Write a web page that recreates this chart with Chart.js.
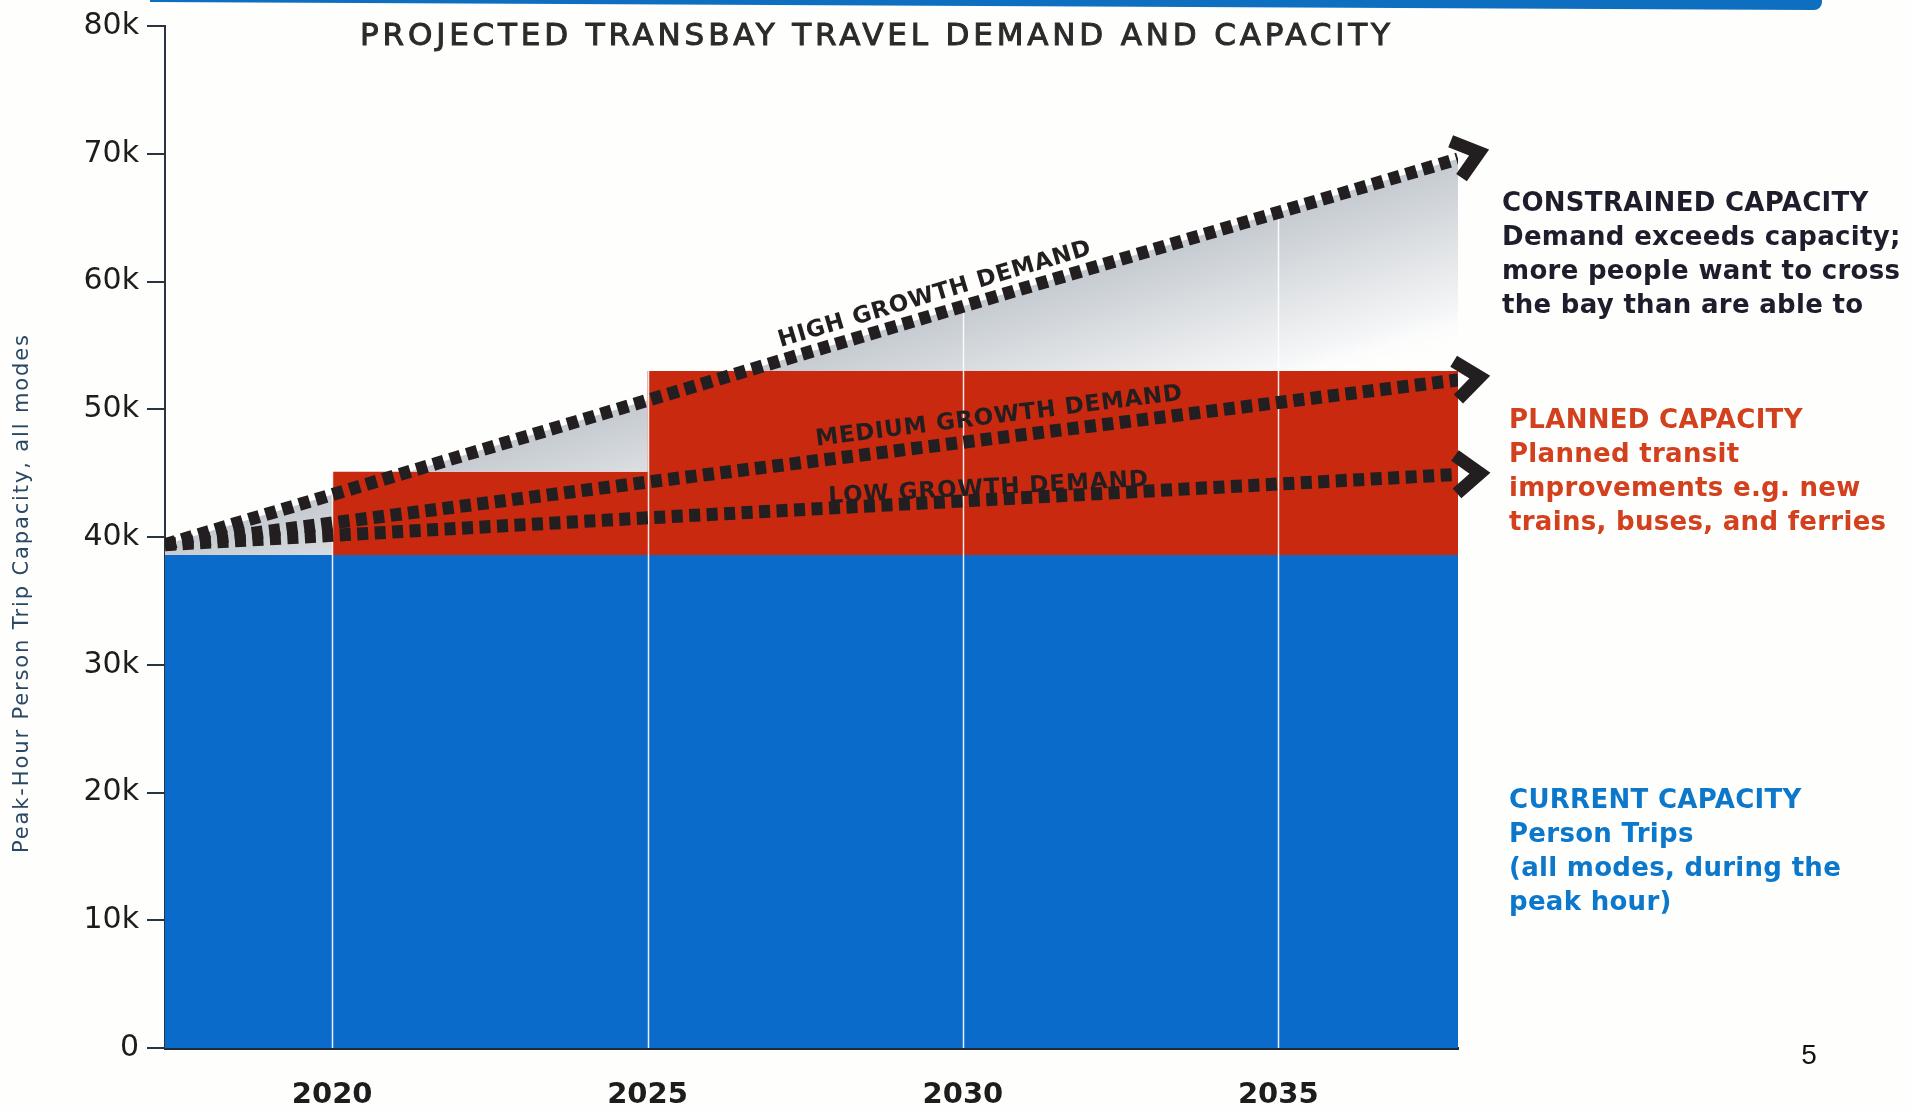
<!DOCTYPE html>
<html lang="en">

<head>
    <meta charset="UTF-8">
    <meta name="viewport" content="width=device-width, initial-scale=1.0">
    <title>Projected Transbay Travel Demand and Capacity</title>
    <script src="https://cdn.jsdelivr.net/npm/chart.js"></script>
    <style>
        html,
        body {
            margin: 0;
            padding: 0;
            background: #fefefc;
        }

        .wrapper {
            width: 1911px;
            height: 1110px;
        }
    </style>
</head>

<body>
    <div class="wrapper">
        <canvas id="transbayChart"></canvas>
    </div>

    <script>
        // years shown on the x axis
        const yearStart = 2017.35;
        const yearEnd = 2037.85;
        const tickYears = [2020, 2025, 2030, 2035];

        // demand projections (peak-hour person trips)
        const demandYears = [2017.35, 2025, 2037.85];
        const highDemand = [39400, 50700, 69600];
        const mediumDemand = [39400, 44300, 52300];
        const lowDemand = [39400, 41500, 44900];

        // capacity steps
        const capacityYears = [2017.35, 2020, 2025, 2037.85];
        const currentCapacity = [38600, 38600, 38600, 38600];
        const plannedCapacity = [38600, 45100, 53000, 53000];

        const lineLabels = ['HIGH GROWTH DEMAND', 'MEDIUM GROWTH DEMAND', 'LOW GROWTH DEMAND'];
        const constrainedNote = ['CONSTRAINED CAPACITY', 'Demand exceeds capacity;', 'more people want to cross', 'the bay than are able to'];
        const plannedNote = ['PLANNED CAPACITY', 'Planned transit', 'improvements e.g. new', 'trains, buses, and ferries'];
        const currentNote = ['CURRENT CAPACITY', 'Person Trips', '(all modes, during the', 'peak hour)'];

        const DARK = '#231f20';
        const RED = '#c8290f';
        const BLUE = '#0b6bcb';
        const NONE = 'rgba(0,0,0,0)';

        const toPoints = (xs, ys) => xs.map((x, i) => ({ x: x, y: ys[i] }));

        // gray shade that fades away from the high growth line
        function grayShade(context) {
            const { ctx, chartArea, scales } = context.chart;
            if (!chartArea) return 'rgba(200,205,210,0.6)';
            const n = demandYears.length - 1;
            const x0 = scales.x.getPixelForValue(demandYears[0]);
            const y0 = scales.y.getPixelForValue(highDemand[0]);
            const x1 = scales.x.getPixelForValue(demandYears[n]);
            const y1 = scales.y.getPixelForValue(highDemand[n]);
            const len = Math.hypot(x1 - x0, y1 - y0);
            const nx = -(y1 - y0) / len, ny = (x1 - x0) / len;
            const mx = (x0 + x1) / 2, my = (y0 + y1) / 2;
            const g = ctx.createLinearGradient(mx, my, mx + nx * 180, my + ny * 180);
            g.addColorStop(0, '#c4cad0');
            g.addColorStop(0.4, '#dde0e3');
            g.addColorStop(0.8, '#f5f6f7');
            g.addColorStop(1, 'rgba(255,255,255,0)');
            return g;
        }

        const dashStyle = {
            borderColor: DARK,
            borderWidth: 13,
            borderDash: [11, 6.5],
            borderCapStyle: 'butt',
            pointRadius: 0,
            fill: false
        };

        // draws text stretched to a given width with letter spacing
        function spacedText(ctx, text, cx, cy, width, outline) {
            ctx.letterSpacing = '0px';
            const w = ctx.measureText(text).width;
            const gap = (width - w) / (text.length - 1);
            ctx.letterSpacing = gap + 'px';
            ctx.textAlign = 'left';
            ctx.fillText(text, cx - width / 2, cy);
            if (outline) {
                ctx.lineWidth = outline;
                ctx.strokeStyle = ctx.fillStyle;
                ctx.strokeText(text, cx - width / 2, cy);
            }
            ctx.letterSpacing = '0px';
        }

        const gridOverlay = {
            id: 'gridOverlay',
            beforeDatasetDraw(chart, args) {
                if (args.index !== 2) return;
                const { ctx, chartArea, scales } = chart;
                ctx.save();
                ctx.strokeStyle = 'rgba(255,255,255,0.9)';
                ctx.lineWidth = 1.5;
                tickYears.forEach(yr => {
                    const x = Math.round(scales.x.getPixelForValue(yr)) + 0.5;
                    ctx.beginPath();
                    ctx.moveTo(x, chartArea.top);
                    ctx.lineTo(x, chartArea.bottom);
                    ctx.stroke();
                });
                ctx.restore();
            }
        };

        const labelPlace = [
            { year: 2029.55, offset: -20, width: 325 },
            { year: 2030.57, offset: -21, width: 369 },
            { year: 2030.4, offset: -11, width: 320 }
        ];

        const lineDecor = {
            id: 'lineDecor',
            afterDatasetsDraw(chart) {
                const { ctx, scales } = chart;
                ctx.save();
                [0, 1, 2].forEach(i => {
                    const pts = chart.getDatasetMeta(i).data;
                    const last = pts[pts.length - 1];
                    const prev = pts[pts.length - 2];
                    const ang = Math.atan2(last.y - prev.y, last.x - prev.x);
                    // chevron at the end of the line
                    ctx.save();
                    ctx.translate(last.x, last.y);
                    ctx.rotate(ang);
                    ctx.strokeStyle = DARK;
                    ctx.lineWidth = 13;
                    ctx.lineJoin = 'miter';
                    ctx.lineCap = 'butt';
                    ctx.beginPath();
                    ctx.moveTo(-2, -19);
                    ctx.lineTo(22, 0);
                    ctx.lineTo(-2, 19);
                    ctx.stroke();
                    ctx.restore();

                    // label along the line
                    const p = labelPlace[i];
                    const px = scales.x.getPixelForValue(p.year);
                    let k = 0;
                    while (k < pts.length - 2 && pts[k + 1].x < px) k++;
                    const a = pts[k], b = pts[k + 1];
                    const py = a.y + (b.y - a.y) * (px - a.x) / (b.x - a.x);
                    const la = Math.atan2(b.y - a.y, b.x - a.x);
                    ctx.save();
                    ctx.translate(px, py + p.offset);
                    ctx.rotate(la);
                    ctx.fillStyle = DARK;
                    ctx.font = 'bold 23px "DejaVu Sans"';
                    ctx.textBaseline = 'middle';
                    spacedText(ctx, lineLabels[i], 0, 0, p.width);
                    ctx.restore();
                });
                ctx.restore();
            }
        };

        const pageText = {
            id: 'pageText',
            afterDraw(chart) {
                const ctx = chart.ctx;
                ctx.save();

                // blue strip at the top edge
                ctx.fillStyle = '#0e6fc1';
                ctx.beginPath();
                ctx.moveTo(150, 0);
                ctx.lineTo(1822, 0);
                ctx.arcTo(1822, 10, 1810, 10, 8);
                ctx.lineTo(150, 2);
                ctx.closePath();
                ctx.fill();

                // title
                ctx.fillStyle = '#2b2b2b';
                ctx.font = '31px "DejaVu Sans"';
                ctx.textBaseline = 'middle';
                spacedText(ctx, 'PROJECTED TRANSBAY TRAVEL DEMAND AND CAPACITY', 875, 37, 1030, 1);

                // y axis title
                ctx.save();
                ctx.translate(23, 594);
                ctx.rotate(-Math.PI / 2);
                ctx.fillStyle = '#2a4765';
                ctx.font = '21px "DejaVu Sans"';
                spacedText(ctx, 'Peak-Hour Person Trip Capacity, all modes', 0, 0, 518);
                ctx.restore();

                // notes on the right
                const notes = [
                    { lines: constrainedNote, x: 1502, y: 204, color: '#1e1d2b' },
                    { lines: plannedNote, x: 1509, y: 421, color: '#d2401d' },
                    { lines: currentNote, x: 1509, y: 801, color: '#0b78cc' }
                ];
                ctx.font = 'bold 26px "DejaVu Sans"';
                ctx.textAlign = 'left';
                ctx.letterSpacing = '0.3px';
                notes.forEach(n => {
                    ctx.fillStyle = n.color;
                    n.lines.forEach((t, j) => ctx.fillText(t, n.x, n.y + j * 34));
                });
                ctx.letterSpacing = '0px';

                // page number
                ctx.fillStyle = '#111';
                ctx.font = '28px "Liberation Sans"';
                ctx.textAlign = 'center';
                ctx.fillText('5', 1809, 1056);
                ctx.restore();
            }
        };

        const data = {
            datasets: [
                { label: 'High growth demand', data: toPoints(demandYears, highDemand), ...dashStyle },
                { label: 'Medium growth demand', data: toPoints(demandYears, mediumDemand), ...dashStyle },
                { label: 'Low growth demand', data: toPoints(demandYears, lowDemand), ...dashStyle },
                {
                    label: 'Constrained capacity',
                    data: toPoints(demandYears, highDemand),
                    borderWidth: 0,
                    borderColor: NONE,
                    pointRadius: 0,
                    backgroundColor: grayShade,
                    fill: { target: 4, below: NONE }
                },
                {
                    label: 'Planned capacity',
                    data: toPoints(capacityYears, plannedCapacity),
                    stepped: 'before',
                    borderWidth: 0,
                    borderColor: NONE,
                    pointRadius: 0,
                    backgroundColor: RED,
                    fill: { target: 5, below: NONE }
                },
                {
                    label: 'Current capacity',
                    data: toPoints(capacityYears, currentCapacity),
                    borderWidth: 0,
                    borderColor: NONE,
                    pointRadius: 0,
                    backgroundColor: BLUE,
                    fill: 'origin'
                }
            ]
        };

        const config = {
            type: 'line',
            data: data,
            options: {
                responsive: true,
                maintainAspectRatio: false,
                animation: false,
                events: [],
                layout: { padding: { top: 23, right: 453, bottom: 0, left: 0 } },
                scales: {
                    x: {
                        type: 'linear',
                        min: yearStart,
                        max: yearEnd,
                        z: 1,
                        afterFit: s => { s.height = 62; },
                        afterBuildTicks: s => { s.ticks = tickYears.map(v => ({ value: v })); },
                        ticks: {
                            color: '#1d1d1d',
                            font: { family: 'DejaVu Sans', size: 29, weight: 'bold' },
                            padding: 22,
                            maxRotation: 0,
                            autoSkip: false,
                            callback: v => String(v)
                        },
                        grid: { display: false },
                        border: { display: true, color: '#1f2a36', width: 3 }
                    },
                    y: {
                        type: 'linear',
                        min: 0,
                        max: 80000,
                        afterFit: s => { s.width = 165; },
                        ticks: {
                            stepSize: 10000,
                            color: '#1d1d1d',
                            font: { family: 'DejaVu Sans', size: 30 },
                            padding: 8,
                            callback: v => v === 0 ? '0' : (v / 1000) + 'k'
                        },
                        grid: { drawOnChartArea: false, drawTicks: true, tickLength: 18, color: '#2a3340', lineWidth: 2 },
                        border: { display: true, color: '#2a3340', width: 2 }
                    }
                },
                plugins: {
                    legend: { display: false },
                    tooltip: { enabled: false },
                    title: { display: false }
                }
            },
            plugins: [gridOverlay, lineDecor, pageText]
        };

        new Chart(document.getElementById('transbayChart'), config);
    </script>
</body>

</html>
